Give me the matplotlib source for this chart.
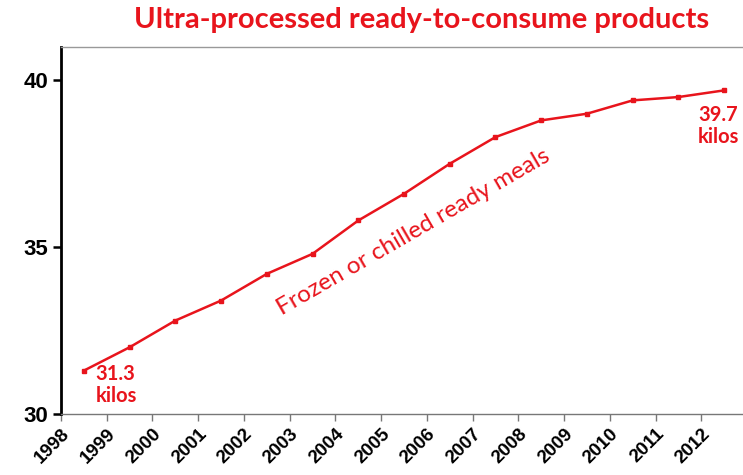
import numpy as np
import matplotlib
matplotlib.use("Agg")
import matplotlib.pyplot as plt

years = [str(y) for y in range(1998, 2013)]
kilos = [31.3, 32.0, 32.8, 33.4, 34.2, 34.8, 35.8, 36.6, 37.5, 38.3, 38.8, 39.0, 39.4, 39.5, 39.7]

RED = "#e8141c"

fig = plt.figure(figsize=(7.43, 4.75), dpi=100, facecolor="white")
# axes runs slightly past the right edge of the picture, as in the reference
ax = fig.add_axes([61 / 743, 61 / 475, 686 / 743, 367 / 475])

x = np.arange(len(kilos))
ax.plot(x, kilos, color=RED, linewidth=1.8, marker="s", markersize=3.5, zorder=3)

ax.set_xlim(-0.5, len(kilos) - 0.5)
ax.set_ylim(30, 41)
ax.set_yticks([30, 35, 40])
ax.set_yticklabels(["30", "35", "40"], fontsize=16, fontweight="bold",
                   family="Liberation Sans")
ax.set_xticks(x - 0.5)
ax.set_xticklabels(years, rotation=45, ha="right", rotation_mode="anchor",
                   fontsize=13.5, fontweight="bold", family="Liberation Sans")

ax.tick_params(axis="x", length=5, width=1, color="#777777", pad=3)
ax.tick_params(axis="y", length=6, width=1.8, color="black", pad=3)

ax.spines["left"].set_linewidth(2)
ax.spines["left"].set_color("black")
ax.spines["bottom"].set_linewidth(1)
ax.spines["bottom"].set_color("#777777")
ax.spines["top"].set_linewidth(1)
ax.spines["top"].set_color("#999999")
ax.spines["right"].set_visible(False)

# end labels
ax.text(0.26, 31.5, f"{kilos[0]}\nkilos", color=RED, fontsize=14.5, fontweight="bold",
        family="Lato", ha="left", va="top", linespacing=1.15)
ax.text(13.88, 39.27, f"{kilos[-1]}\nkilos", color=RED, fontsize=14.5, fontweight="bold",
        family="Lato", ha="center", va="top", linespacing=1.15)

# series label along the line
ax.text(7.2, 35.45, "Frozen or chilled ready meals", color=RED, fontsize=17.5,
        family="Lato", rotation=30, ha="center", va="center", rotation_mode="anchor")

fig.text(422 / 743, 1 - 20 / 475, "Ultra-processed ready-to-consume products",
         color=RED, fontsize=21, fontweight="bold", family="Lato",
         ha="center", va="center")

plt.savefig("out.png", dpi=100, facecolor="white")
